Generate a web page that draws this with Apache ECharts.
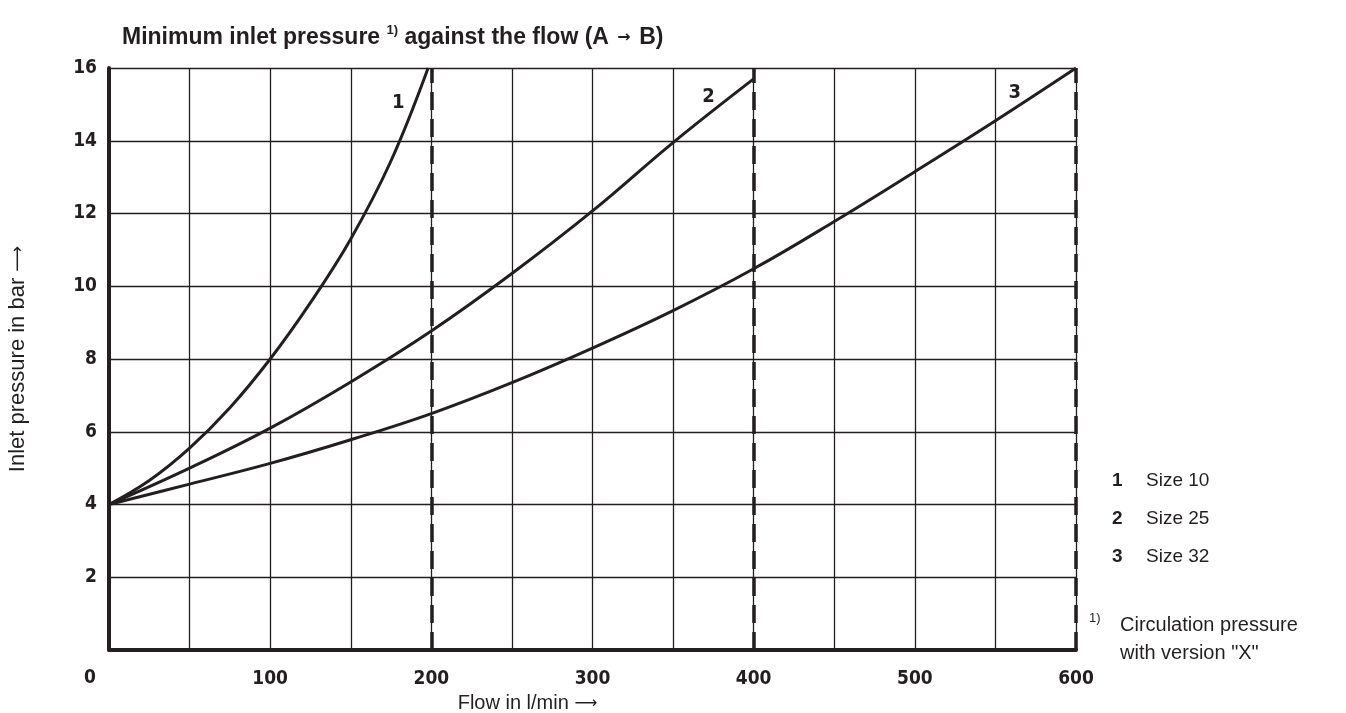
<!DOCTYPE html>
<html>
<head>
<meta charset="utf-8">
<script src="https://cdn.jsdelivr.net/npm/echarts@6/dist/echarts.min.js"></script>
<style>
html,body{margin:0;padding:0;background:#fff;}
#chart{width:1346px;height:713px;}
</style>
</head>
<body>
<div id="chart"></div>
<script>
// ---- data ----
const flow1 = [0, 25, 50, 75, 100, 125, 150, 175, 198];
const press1 = [4, 4.66, 5.55, 6.66, 8.0, 9.55, 11.3, 13.45, 16];
const flow2 = [0, 50, 100, 150, 200, 250, 300, 350, 400];
const press2 = [4, 5.0, 6.1, 7.37, 8.77, 10.35, 12.07, 13.95, 15.7];
const flow3 = [0, 50, 100, 150, 200, 250, 300, 350, 400, 450, 500, 550, 600];
const press3 = [4, 4.56, 5.13, 5.78, 6.5, 7.35, 8.3, 9.33, 10.48, 11.78, 13.15, 14.55, 16];
const sizeLimits = [200, 400, 600];
const curveNames = ['1', '2', '3'];
const legendNumbers = ['1', '2', '3'];
const legendSizes = ['Size 10', 'Size 25', 'Size 32'];
const xTickLabels = [100, 200, 300, 400, 500, 600];
const yTickLabels = [2, 4, 6, 8, 10, 12, 14, 16];

const INK = '#231f20';
const SANS = '"Liberation Sans", Arial, Helvetica, sans-serif';
const NARROW = '"Liberation Sans Narrow", "DejaVu Sans Condensed", "Liberation Sans", sans-serif';
const ARROWFONT = '"DejaVu Sans", sans-serif';

function pairs(xs, ys) { return xs.map((x, i) => [x, ys[i]]); }

const chart = echarts.init(document.getElementById('chart'));

const labelPos = [[179.5, 15.03], [372, 15.2], [562, 15.33]];

function curve(name, data, idx, withLimits) {
  const s = {
    name: name,
    type: 'line',
    data: data,
    smooth: 0.4,
    showSymbol: false,
    symbol: 'none',
    silent: true,
    lineStyle: { color: INK, width: 3 },
    markPoint: {
      symbol: 'circle',
      symbolSize: 1,
      itemStyle: { color: 'rgba(0,0,0,0)' },
      label: {
        show: true,
        position: 'inside',
        formatter: curveNames[idx],
        fontFamily: NARROW,
        fontWeight: 'bold',
        fontSize: 20,
        color: INK
      },
      data: [{ coord: labelPos[idx] }]
    }
  };
  if (withLimits) {
    s.markLine = {
      silent: true,
      symbol: ['none', 'none'],
      label: { show: false },
      lineStyle: { color: INK, width: 3.5, type: [18, 9] },
      data: sizeLimits.map(v => ({ xAxis: v }))
    };
  }
  return s;
}

const legendGraphics = [];
legendNumbers.forEach((n, i) => {
  legendGraphics.push({
    type: 'text', left: 1112, top: 471 + i * 38,
    style: { text: n, font: 'bold 19px ' + SANS, fill: INK }
  });
  legendGraphics.push({
    type: 'text', left: 1146, top: 471 + i * 38,
    style: { text: legendSizes[i], font: '19px ' + SANS, fill: INK }
  });
});

const option = {
  backgroundColor: '#fff',
  animation: false,
  title: {
    left: 117,
    top: 19,
    text: '{b|Minimum inlet pressure }{s|1)}{b| against the flow (A }{a|→}{b| B)}',
    textStyle: {
      rich: {
        b: { fontFamily: SANS, fontWeight: 'bold', fontSize: 23, color: INK, lineHeight: 27 },
        s: { fontFamily: SANS, fontWeight: 'bold', fontSize: 13, color: INK, verticalAlign: 'top', lineHeight: 15 },
        a: { fontFamily: ARROWFONT, fontSize: 16, color: INK, lineHeight: 27, padding: [0, 2, 0, 2] }
      }
    }
  },
  grid: { left: 109, right: 270, top: 68, bottom: 63, containLabel: false, outerBoundsMode: 'none' },
  xAxis: {
    type: 'value',
    min: 0, max: 600, interval: 50,
    name: '{t|Flow in l/min }{a|⟶}',
    nameLocation: 'middle',
    nameGap: 41,
    nameTextStyle: {
      padding: [0, 130, 0, 0],
      rich: {
        t: { fontFamily: SANS, fontSize: 20, color: INK },
        a: { fontFamily: ARROWFONT, fontSize: 16, color: INK }
      }
    },
    axisLine: { show: true, onZero: false, lineStyle: { color: INK, width: 4 } },
    axisTick: { show: false },
    splitLine: { show: true, lineStyle: { color: INK, width: 1.3 } },
    axisLabel: {
      margin: 20,
      showMaxLabel: true,
      fontFamily: NARROW, fontWeight: 'bold', fontSize: 19, color: INK,
      formatter: v => (xTickLabels.indexOf(v) >= 0 ? String(v) : '')
    }
  },
  yAxis: {
    type: 'value',
    min: 0, max: 16, interval: 2,
    name: '{t|Inlet pressure in bar }{a|⟶}',
    nameLocation: 'middle',
    nameGap: 80,
    nameRotate: 90,
    nameTextStyle: {
      rich: {
        t: { fontFamily: SANS, fontSize: 22, color: INK },
        a: { fontFamily: ARROWFONT, fontSize: 18, color: INK }
      }
    },
    axisLine: { show: true, onZero: false, lineStyle: { color: INK, width: 4 } },
    axisTick: { show: false },
    splitLine: { show: true, lineStyle: { color: INK, width: 1.3 } },
    axisLabel: {
      margin: 12,
      fontFamily: NARROW, fontWeight: 'bold', fontSize: 19, color: INK,
      formatter: v => (yTickLabels.indexOf(v) >= 0 ? String(v) : '')
    }
  },
  graphic: [
    {
      type: 'text', left: 84, top: 669,
      style: { text: '0', font: 'bold 19px ' + NARROW, fill: INK }
    },
    ...legendGraphics,
    {
      type: 'text', left: 1089, top: 612,
      style: { text: '1)', font: '13px ' + SANS, fill: INK }
    },
    {
      type: 'text', left: 1120, top: 611,
      style: { text: 'Circulation pressure\nwith version "X"', font: '20px ' + SANS, lineHeight: 28, fill: INK }
    }
  ],
  series: [
    curve('Size 10', pairs(flow1, press1), 0, true),
    curve('Size 25', pairs(flow2, press2), 1, false),
    curve('Size 32', pairs(flow3, press3), 2, false)
  ]
};

chart.setOption(option);
</script>
</body>
</html>
